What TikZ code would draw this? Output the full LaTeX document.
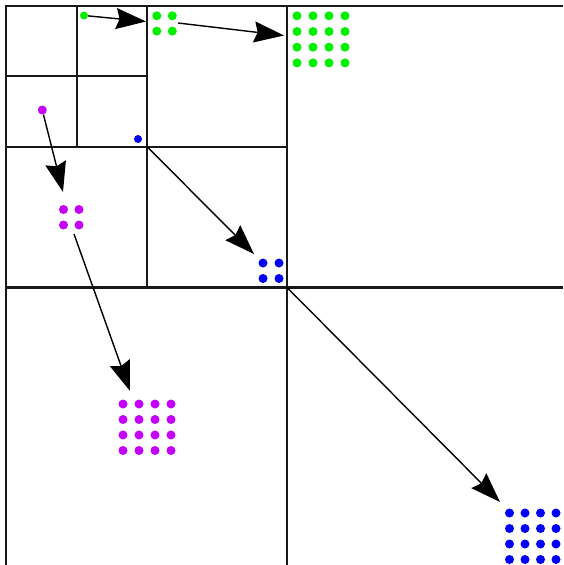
\documentclass[tikz,border=0pt]{standalone}
\usetikzlibrary{arrows.meta}
\definecolor{seedgreen}{RGB}{0,240,0}
\definecolor{seedviolet}{RGB}{196,0,250}
\definecolor{seedblue}{RGB}{0,0,245}
\begin{document}
\begin{tikzpicture}[x=1pt,y=-1pt,
  gridline/.style={line width=2.2pt, black!90},
  link/.style={line width=1.4pt, black, -{Stealth[length=30pt,width=21pt,inset=3.5pt]}},
  dot/.style={circle, inner sep=0pt, minimum size=9pt, fill=#1, draw=none}]
\useasboundingbox (0,0) rectangle (563,565);

% quadtree grid lines (right and bottom edges lie outside the frame)
\draw[gridline] (6,565) -- (6,6) -- (563,6);
\draw[gridline] (6,287.5) -- (563,287.5);
\draw[gridline] (287,6) -- (287,565);
\draw[gridline] (6,146.8) -- (287,146.8);
\draw[gridline] (147.2,6) -- (147.2,287.5);
\draw[gridline] (6,76.3) -- (147.2,76.3);
\draw[gridline] (76.6,6) -- (76.6,146.8);

% single seed points
\node[dot=seedgreen, minimum size=8pt]  (g0) at (84,15.5) {};
\node[dot=seedviolet, minimum size=9pt] (m0) at (42.3,110) {};
\node[dot=seedblue, minimum size=8pt]   (b0) at (138,139) {};

% 2x2 clusters
\foreach \i in {0,1} \foreach \j in {0,1} {
  \node[dot=seedgreen]  (g1-\i-\j) at (156.8+15.5*\i,15.8+15.3*\j) {};
  \node[dot=seedviolet] (m1-\i-\j) at (63.5+15.5*\i,209.5+15.5*\j) {};
  \node[dot=seedblue]   (b1-\i-\j) at (263+16*\i,263+15.5*\j) {};
}

% 4x4 clusters
\foreach \i in {0,...,3} \foreach \j in {0,...,3} {
  \node[dot=seedgreen]  (g2-\i-\j) at (297+16*\i,15.8+15.7*\j) {};
  \node[dot=seedviolet] (m2-\i-\j) at (123+16*\i,404+15.5*\j) {};
  \node[dot=seedblue]   (b2-\i-\j) at (509.5+15.5*\i,513+15.5*\j) {};
}

% arrow end points
\coordinate (g1out) at (178,23);
\coordinate (m1out) at (74,234);
\coordinate (c1) at (147.2,146.8);
\coordinate (c2) at (287,287.5);
\coordinate (tg1) at (146,21.5);
\coordinate (tg2) at (284,35.5);
\coordinate (tm1) at (63,192);
\coordinate (tm2) at (130,391);
\coordinate (tb1) at (254,254);
\coordinate (tb2) at (500,502);

% scaling arrows
\draw[link] (g0) -- (tg1);
\draw[link] (g1out) -- (tg2);
\draw[link] (m0) -- (tm1);
\draw[link] (m1out) -- (tm2);
\draw[link] (c1) -- (tb1);
\draw[link] (c2) -- (tb2);
\end{tikzpicture}
\end{document}
